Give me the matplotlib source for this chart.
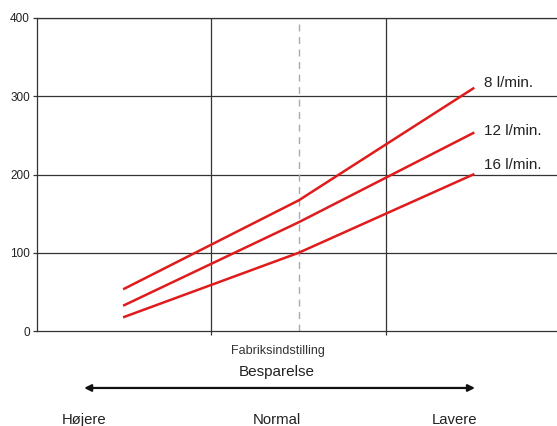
import matplotlib
matplotlib.use("Agg")
import matplotlib.pyplot as plt

plt.rcParams['font.family'] = ['Liberation Sans', 'DejaVu Sans']

x_pos = [0.5, 1.5, 2.5]
series_labels = ["8 l/min.", "12 l/min.", "16 l/min."]
series_values = [
    [54, 167, 310],
    [33, 139, 253],
    [18, 100, 200],
]
label_y = [317, 256, 212]
y_ticks = [0, 100, 200, 300, 400]
bottom_labels = ["Højere", "Normal", "Lavere"]

fig = plt.figure(figsize=(5.57, 4.26), dpi=100)
ax = fig.add_axes([37/557, 1-331/426, 1-37/557, (331-18)/426])
ax.set_xlim(0, 2.98)
ax.set_ylim(0, 400)

for yv in y_ticks[1:]:
    ax.axhline(yv, color='#333333', lw=0.9, zorder=1)
for xv in [1, 2]:
    ax.axvline(xv, color='#333333', lw=0.9, zorder=1)
ax.axvline(1.5, color='#aaaaaa', lw=1.0, ls=(0, (5, 4)), zorder=1)

for vals, lab, ly in zip(series_values, series_labels, label_y):
    ax.plot(x_pos, vals, color='#e01b1b', lw=1.8, zorder=3)
    ax.text(x_pos[-1] + 0.063, ly, lab, fontsize=11, va='center', ha='left',
            color='#222222', zorder=4,
            bbox=dict(facecolor='white', edgecolor='none', pad=1.0) if lab == "16 l/min." else None)

ax.set_yticks(y_ticks)
ax.set_yticklabels([str(v) for v in y_ticks], fontsize=8.5)
ax.set_xticks([1, 2])
ax.set_xticklabels([])
ax.tick_params(axis='both', direction='out', length=3, width=0.9, colors='#333333', labelcolor='#222222', pad=2)
ax.spines['right'].set_visible(False)
for s in ['left', 'bottom', 'top']:
    ax.spines[s].set_color('#333333')
    ax.spines[s].set_linewidth(0.9)

tr = ax.get_xaxis_transform()
ax.text(1.38, -0.065, "Fabriksindstilling", transform=tr, ha='center', va='center', fontsize=9, color='#333333')
ax.text(1.375, -0.132, "Besparelse", transform=tr, ha='center', va='center', fontsize=11, color='#222222')
ax.annotate("", xy=(0.27, -0.182), xytext=(2.51, -0.182), xycoords=tr, textcoords=tr,
            arrowprops=dict(arrowstyle='<|-|>', color='#111111', lw=1.6, mutation_scale=10, shrinkA=0, shrinkB=0),
            annotation_clip=False)
for xv, lab in zip([0.27, 1.375, 2.39], bottom_labels):
    ax.text(xv, -0.283, lab, transform=tr, ha='center', va='center', fontsize=10.7, color='#222222')

fig.savefig("out.png", dpi=100)
